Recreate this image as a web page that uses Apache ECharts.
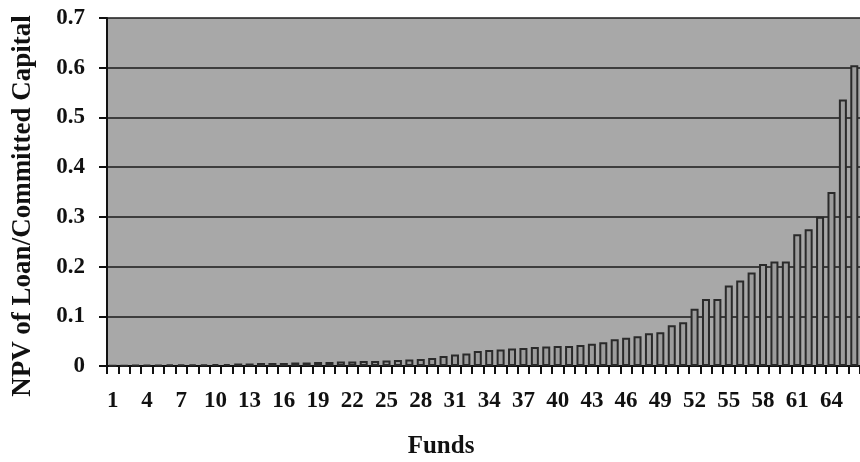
<!DOCTYPE html>
<html>
<head>
<meta charset="utf-8">
<script src="https://cdn.jsdelivr.net/npm/echarts@6/dist/echarts.min.js"></script>
<style>
html,body{margin:0;padding:0;background:#fff;}
#chart{width:860px;height:462px;}
</style>
</head>
<body>
<div id="chart"></div>
<script>
// Fund index 1..66
var funds = [];
for (var i = 1; i <= 66; i++) funds.push(String(i));

// NPV of Loan / Committed Capital (sorted ascending)
var npvValues = [
  0.001, 0.001, 0.002, 0.002, 0.002, 0.003, 0.003, 0.003, 0.003, 0.004,
  0.004, 0.005, 0.005, 0.006, 0.006, 0.006, 0.007, 0.007, 0.008, 0.008,
  0.009, 0.009, 0.010, 0.010, 0.011, 0.012, 0.013, 0.014, 0.016, 0.020,
  0.023, 0.025, 0.030, 0.032, 0.033, 0.035, 0.036, 0.038, 0.039, 0.040,
  0.040, 0.042, 0.045, 0.048, 0.054, 0.057, 0.060, 0.066, 0.068, 0.082,
  0.088, 0.115, 0.135, 0.135, 0.162, 0.172, 0.188, 0.205, 0.210, 0.210,
  0.265, 0.275, 0.300, 0.350, 0.536, 0.605
];

var yTicks = [0, 0.1, 0.2, 0.3, 0.4, 0.5, 0.6, 0.7];

var serif = '"Liberation Serif", "Times New Roman", serif';

var chart = echarts.init(document.getElementById('chart'), null, {renderer: 'canvas'});
chart.setOption({
  animation: false,
  backgroundColor: '#ffffff',
  grid: {
    left: 107, right: -3, top: 18, bottom: 96,
    show: true, backgroundColor: '#a8a8a8', borderWidth: 0
  },
  graphic: [
    {
      type: 'text', x: 23, y: 206, rotation: Math.PI / 2,
      style: {
        text: 'NPV of Loan/Committed Capital',
        font: 'bold 27px ' + serif, fill: '#111',
        align: 'center', verticalAlign: 'middle'
      }
    },
    {
      type: 'text', x: 441, y: 447,
      style: {
        text: 'Funds', font: 'bold 25px ' + serif, fill: '#111',
        align: 'center', verticalAlign: 'middle'
      }
    }
  ],
  xAxis: {
    type: 'category',
    data: funds,
    boundaryGap: true,
    axisLine: {show: true, lineStyle: {color: '#111', width: 2}},
    axisTick: {show: true, alignWithLabel: false, interval: 0, length: 8, lineStyle: {color: '#111', width: 2}},
    axisLabel: {
      interval: 2, margin: 24,
      fontFamily: serif, fontWeight: 'bold', fontSize: 23, color: '#111'
    },
    splitLine: {show: false}
  },
  yAxis: {
    type: 'value',
    min: 0, max: 0.7, interval: 0.1,
    axisLine: {show: true, lineStyle: {color: '#111', width: 2}},
    axisTick: {show: true, length: 8, lineStyle: {color: '#111', width: 2}},
    axisLabel: {
      margin: 22,
      fontFamily: serif, fontWeight: 'bold', fontSize: 23, color: '#111',
      formatter: function (v) {
        var r = Math.round(v * 10) / 10;
        return yTicks.indexOf(r) >= 0 ? String(r) : '';
      }
    },
    splitLine: {show: true, lineStyle: {color: '#1a1a1a', width: 1.5}}
  },
  series: [{
    type: 'bar',
    data: npvValues,
    barWidth: 8,
    itemStyle: {color: '#9c9c9c', borderColor: '#2a2a2a', borderWidth: 2}
  }]
});
</script>
</body>
</html>
